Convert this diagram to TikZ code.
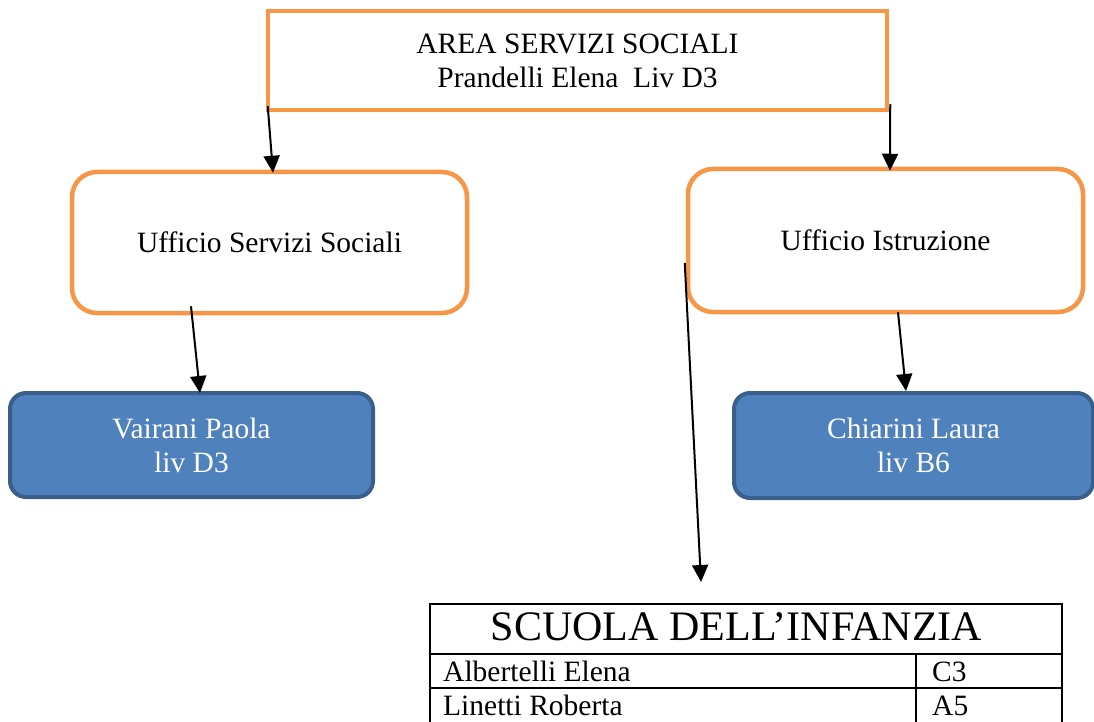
\documentclass[tikz,border=0pt]{standalone}
\usepackage{fontspec}
\setmainfont{Liberation Serif}
\usetikzlibrary{arrows.meta,calc}
\definecolor{boxorange}{HTML}{F79646}
\definecolor{boxblue}{HTML}{4F81BD}
\definecolor{boxblueline}{HTML}{3A5F8B}
\begin{document}
\begin{tikzpicture}[x=1pt,y=-1pt,
  txt/.style={font=\fontsize{29.5}{34}\selectfont, align=center},
  headbox/.style={draw=boxorange, line width=4.5pt, fill=white, txt, inner sep=0pt},
  office/.style={headbox, rounded corners=25pt},
  person/.style={draw=boxblueline, line width=4pt, fill=boxblue, rounded corners=16pt,
                 text=white, txt, inner sep=0pt},
  cell/.style={draw=black, line width=2pt, anchor=north west, inner sep=0pt},
  celltext/.style={font=\fontsize{29.5}{34}\selectfont, anchor=base west, inner sep=0pt},
  link/.style={draw=black, line width=2pt, -{Triangle[length=17pt,width=16pt]}},
]
\useasboundingbox (0,0) rectangle (1094,722);

% area head
\node[headbox, minimum width=619pt, minimum height=99pt] (top) at (577.5,60.5)
  {AREA SERVIZI SOCIALI\\Prandelli Elena\ \ Liv D3};

% offices
\node[office, minimum width=395pt, minimum height=141pt] (uss) at (269.5,242.5)
  {Ufficio Servizi Sociali};
\node[office, minimum width=395pt, minimum height=143pt] (uis) at (885.5,240.5)
  {Ufficio Istruzione};

% staff
\node[person, minimum width=363pt, minimum height=104pt] (vp) at (191.5,445)
  {Vairani Paola\\liv D3};
\node[person, minimum width=359pt, minimum height=105pt] (cl) at (913.5,445.5)
  {Chiarini Laura\\liv B6};

% school table
\node[cell, minimum width=632pt, minimum height=50pt] (hdr) at (429,603) {};
\node[font=\fontsize{42}{48}\selectfont, anchor=base, inner sep=0pt] (hdrtext) at (736.5,640)
  {SCUOLA DELL’INFANZIA};
\node[cell, minimum width=486pt, minimum height=34pt] (n1) at (429,653) {};
\node[cell, minimum width=146pt, minimum height=34pt] (l1) at (915,653) {};
\node[cell, minimum width=486pt, minimum height=37pt] (n2) at (429,687) {};
\node[cell, minimum width=146pt, minimum height=37pt] (l2) at (915,687) {};
\node[celltext] (t1) at (443,681) {Albertelli Elena};
\node[celltext] (t2) at (932,681) {C3};
\node[celltext] (t3) at (443,715) {Linetti Roberta};
\node[celltext] (t4) at (932,715) {A5};

% connectors
\draw[link] ($(top.south west)+(2,-6)$) -- ($(uss.north)+(3.5,3)$);
\draw[link] ($(top.south east)+(1,-8)$) -- ($(uis.north)+(4.5,4)$);
\draw[link] ($(uss.south)+(-78.5,-9)$) -- ($(vp.north)+(8.5,2)$);
\draw[link] ($(uis.south)+(12.5,-2)$) -- ($(cl.north)+(-7.5,0)$);
\draw[link] ($(uis.west)+(-1,22.5)$) -- ($(hdr.north west)+(272,-21)$);
\end{tikzpicture}
\end{document}
